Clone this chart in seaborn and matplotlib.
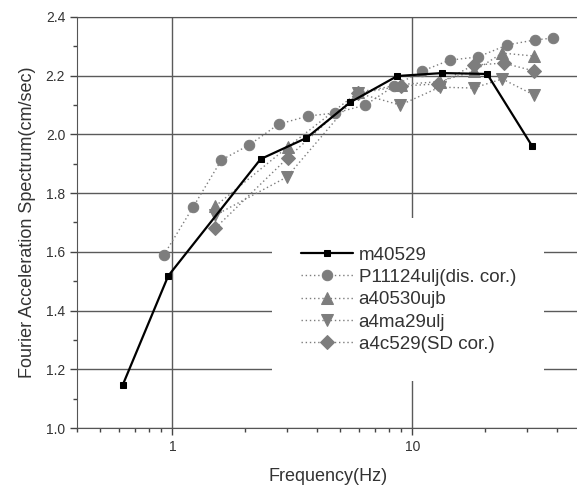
import matplotlib
matplotlib.use("Agg")
import matplotlib.pyplot as plt
import matplotlib.ticker as mticker
import seaborn as sns
import numpy as np

# values
m40529_f = [0.62, 0.96, 2.33, 3.62, 5.52, 8.66, 13.3, 20.5, 31.6]
m40529_a = [1.146, 1.518, 1.916, 1.988, 2.110, 2.199, 2.209, 2.206, 1.960]

p11124_f = [0.92, 1.22, 1.60, 2.09, 2.77, 3.69, 4.77, 6.37, 8.4, 11.0, 14.3, 18.8, 24.9, 32.5, 38.4]
p11124_a = [1.589, 1.753, 1.913, 1.964, 2.035, 2.063, 2.073, 2.100, 2.165, 2.216, 2.253, 2.264, 2.305, 2.322, 2.328]

a40530_f = [1.51, 3.02, 5.96, 9.0, 13.0, 18.0, 23.7, 32.2]
a40530_a = [1.756, 1.957, 2.144, 2.170, 2.180, 2.215, 2.277, 2.267]

a4ma29_f = [1.51, 3.0, 5.96, 8.91, 13.0, 18.0, 23.7, 32.2]
a4ma29_a = [1.725, 1.855, 2.140, 2.100, 2.161, 2.158, 2.189, 2.134]

a4c529_f = [1.51, 3.02, 5.96, 9.0, 12.8, 18.0, 24.0, 32.2]
a4c529_a = [1.681, 1.920, 2.140, 2.165, 2.172, 2.236, 2.243, 2.216]

y_ticks = [1.0, 1.2, 1.4, 1.6, 1.8, 2.0, 2.2, 2.4]

sns.set_style("ticks")
plt.rcParams['font.family'] = ['Liberation Sans', 'DejaVu Sans']

fig = plt.figure(figsize=(5.77, 4.92), dpi=100)
ax = fig.add_axes([77/577, 1-428/492, 503/577, 411/492])

gray = "#7d7d7d"
dot = (0, (1, 2))

sns.lineplot(x=m40529_f, y=m40529_a, ax=ax, color="black", marker="s", markersize=5,
             markeredgecolor="black", linewidth=1.6, sort=False, estimator=None,
             label="m40529", zorder=5)
sns.lineplot(x=p11124_f, y=p11124_a, ax=ax, color=gray, marker="o", markersize=7.5,
             markeredgecolor=gray, linewidth=1.0, linestyle=dot, sort=False, estimator=None,
             label="P11124ulj(dis. cor.)")
sns.lineplot(x=a40530_f, y=a40530_a, ax=ax, color=gray, marker="^", markersize=8.5,
             markeredgecolor=gray, linewidth=1.0, linestyle=dot, sort=False, estimator=None,
             label="a40530ujb")
sns.lineplot(x=a4ma29_f, y=a4ma29_a, ax=ax, color=gray, marker="v", markersize=8.5,
             markeredgecolor=gray, linewidth=1.0, linestyle=dot, sort=False, estimator=None,
             label="a4ma29ulj")
sns.lineplot(x=a4c529_f, y=a4c529_a, ax=ax, color=gray, marker="D", markersize=7,
             markeredgecolor=gray, linewidth=1.0, linestyle=dot, sort=False, estimator=None,
             label="a4c529(SD cor.)")

ax.set_xscale("log")
ax.set_xlim(0.4, 50)
ax.set_ylim(1.0, 2.4)
ax.set_yticks(y_ticks)
ax.set_yticklabels([f"{v:.1f}" for v in y_ticks])
ax.yaxis.set_minor_locator(mticker.MultipleLocator(0.1))
ax.xaxis.set_major_locator(mticker.FixedLocator([1, 10]))
ax.xaxis.set_major_formatter(mticker.FixedFormatter(["1", "10"]))
ax.xaxis.set_minor_locator(mticker.LogLocator(base=10, subs=np.arange(2, 10)))
ax.xaxis.set_minor_formatter(mticker.NullFormatter())

ax.grid(True, which="major", color="#5a5a5a", linewidth=1.0)
ax.tick_params(which="major", direction="out", length=5, width=1, color="#444444",
               labelsize=10, labelcolor="#333333")
ax.tick_params(which="minor", direction="out", length=3, width=1, color="#444444")
for s in ["left", "bottom", "top"]:
    ax.spines[s].set_color("#555555")
ax.spines["right"].set_visible(False)

ax.set_xlabel("Frequency(Hz)", fontsize=13, color="#333333", labelpad=10)
ax.set_ylabel("Fourier Acceleration Spectrum(cm/sec)", fontsize=13, color="#333333", labelpad=7)

leg = ax.legend(loc="upper left", bbox_to_anchor=(0.370, 0.533), fontsize=13.5,
                frameon=True, facecolor="white", edgecolor="none", framealpha=1,
                handlelength=2.8, handletextpad=0.3, labelspacing=0.28, borderpad=1.5)
for t in leg.get_texts():
    t.set_color("#333333")

fig.savefig("out.png", dpi=100)
